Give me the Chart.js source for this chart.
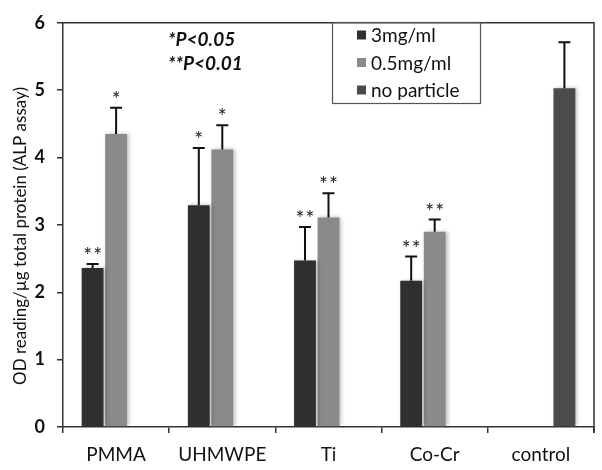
<!DOCTYPE html>
<html>
<head>
<meta charset="utf-8">
<script src="https://cdn.jsdelivr.net/npm/chart.js@4"></script>
<style>
  html, body { margin:0; padding:0; background:#fff; }
  #wrap { width:602px; height:470px; }
</style>
</head>
<body>
<div id="wrap"><canvas id="c" width="602" height="470"></canvas></div>
<script>
// data
const categories = ["PMMA", "UHMWPE", "Ti", "Co-Cr", "control"];
const seriesNames = ["3mg/ml", "0.5mg/ml", "no particle"];
const high  = [2.36, 3.29, 2.47, 2.17, null];
const low   = [4.35, 4.12, 3.11, 2.90, null];
const none  = [null, null, null, null, 5.03];
const highErr = [0.06, 0.85, 0.50, 0.36, null];
const lowErr  = [0.39, 0.36, 0.36, 0.18, null];
const noneErr = [null, null, null, null, 0.68];
const highStars = ["**", "*", "**", "**", ""];
const lowStars  = ["*", "*", "**", "**", ""];
const noneStars = ["", "", "", "", ""];
const yTicks = [0, 1, 2, 3, 4, 5, 6];
const notes = ["*P<0.05", "**P<0.01"];
const yTitle = "OD reading/\u00b5g total protein (ALP assay)";

const colors = ["#2f2f2f", "#8a8a8a", "#4b4b4b"];
const FONT = "Lato, 'Open Sans', sans-serif";

const errs  = [highErr, lowErr, noneErr];
const stars = [highStars, lowStars, noneStars];

// soft shadow like the office-style bars
const shadowPlugin = {
  id: "shadow",
  beforeDatasetsDraw(chart){
    const ctx = chart.ctx;
    ctx.save();
    ctx.shadowColor = "rgba(0,0,0,0.25)";
    ctx.shadowBlur = 4;
    ctx.shadowOffsetX = 2;
    ctx.shadowOffsetY = 0;
  },
  afterDatasetsDraw(chart){
    chart.ctx.restore();
  }
};

const extras = {
  id: "extras",
  afterDatasetsDraw(chart){
    const ctx = chart.ctx;
    const y = chart.scales.y;
    const a = chart.chartArea;

    // frame top + right
    ctx.save();
    ctx.strokeStyle = "#333";
    ctx.lineWidth = 1.5;
    ctx.beginPath();
    ctx.moveTo(a.left, a.top);
    ctx.lineTo(a.right, a.top);
    ctx.lineTo(a.right, a.bottom + 6);
    ctx.stroke();
    ctx.restore();

    // error bars + asterisks
    chart.data.datasets.forEach((ds, di) => {
      const meta = chart.getDatasetMeta(di);
      meta.data.forEach((bar, i) => {
        const v = ds.data[i];
        const e = errs[di][i];
        if (v == null || e == null) return;
        const top = y.getPixelForValue(v + e);
        ctx.save();
        ctx.strokeStyle = "#111";
        ctx.lineWidth = 2;
        ctx.beginPath();
        ctx.moveTo(bar.x, bar.y);
        ctx.lineTo(bar.x, top);
        ctx.moveTo(bar.x - 6, top);
        ctx.lineTo(bar.x + 6, top);
        ctx.stroke();

        const s = stars[di][i];
        if (s) {
          ctx.fillStyle = "#222";
          ctx.font = "21px " + FONT;
          ctx.textAlign = "center";
          ctx.textBaseline = "alphabetic";
          const n = s.length;
          for (let k = 0; k < n; k++) {
            const dx = (k - (n - 1) / 2) * 10;
            ctx.fillText("*", bar.x + dx, top - 1);
          }
        }
        ctx.restore();
      });
    });

    // p-value notes
    ctx.save();
    ctx.fillStyle = "#111";
    ctx.font = "italic bold 19px " + FONT;
    ctx.textAlign = "left";
    ctx.textBaseline = "middle";
    ctx.fillText(notes[0], 168, 40);
    ctx.fillText(notes[1], 168, 64);
    ctx.restore();

    // legend box
    ctx.save();
    ctx.strokeStyle = "#555";
    ctx.lineWidth = 1.2;
    ctx.strokeRect(332.5, 22.5, 148, 81);
    ctx.font = "19px " + FONT;
    ctx.textBaseline = "middle";
    ctx.textAlign = "left";
    seriesNames.forEach((name, k) => {
      const cy = 35 + k * 27.5;
      ctx.fillStyle = colors[k];
      ctx.fillRect(357, cy - 4.5, 9, 9);
      ctx.fillStyle = "#111";
      ctx.fillText(name, 371, cy + 1);
    });
    ctx.restore();

    // y axis title
    ctx.save();
    ctx.translate(21, 236);
    ctx.rotate(-Math.PI / 2);
    ctx.fillStyle = "#111";
    ctx.font = "17px " + FONT;
    ctx.textAlign = "center";
    ctx.textBaseline = "middle";
    ctx.fillText(yTitle, 0, 0);
    ctx.restore();
  }
};

const datasets = [high, low, none].map((d, k) => ({
  label: seriesNames[k],
  data: d,
  backgroundColor: colors[k],
  borderWidth: 0,
  categoryPercentage: 0.664,
  barPercentage: 0.93
}));

new Chart(document.getElementById("c").getContext("2d"), {
  type: "bar",
  data: { labels: categories, datasets },
  options: {
    responsive: false,
    animation: false,
    devicePixelRatio: 1,
    layout: { padding: { top: 13, right: 8, left: 0, bottom: 0 } },
    plugins: { legend: { display: false }, tooltip: { enabled: false } },
    scales: {
      x: {
        grid: { display: true, drawOnChartArea: false, offset: true, tickLength: 6, color: "#333", lineWidth: 1.5 },
        border: { color: "#333", width: 1.5 },
        ticks: { color: "#111", font: { family: FONT, size: 19 }, padding: 10, maxRotation: 0 },
        afterFit: s => { s.height = 43; }
      },
      y: {
        min: 0, max: 6,
        afterBuildTicks: s => { s.ticks = yTicks.map(v => ({ value: v })); },
        grid: { display: true, drawOnChartArea: false, tickLength: 6, color: "#333", lineWidth: 1.5 },
        border: { color: "#333", width: 1.5 },
        ticks: { color: "#111", font: { family: FONT, size: 18, weight: "bold" }, padding: 12 },
        afterFit: s => { s.width = 63; }
      }
    }
  },
  plugins: [shadowPlugin, extras]
});
</script>
</body>
</html>
